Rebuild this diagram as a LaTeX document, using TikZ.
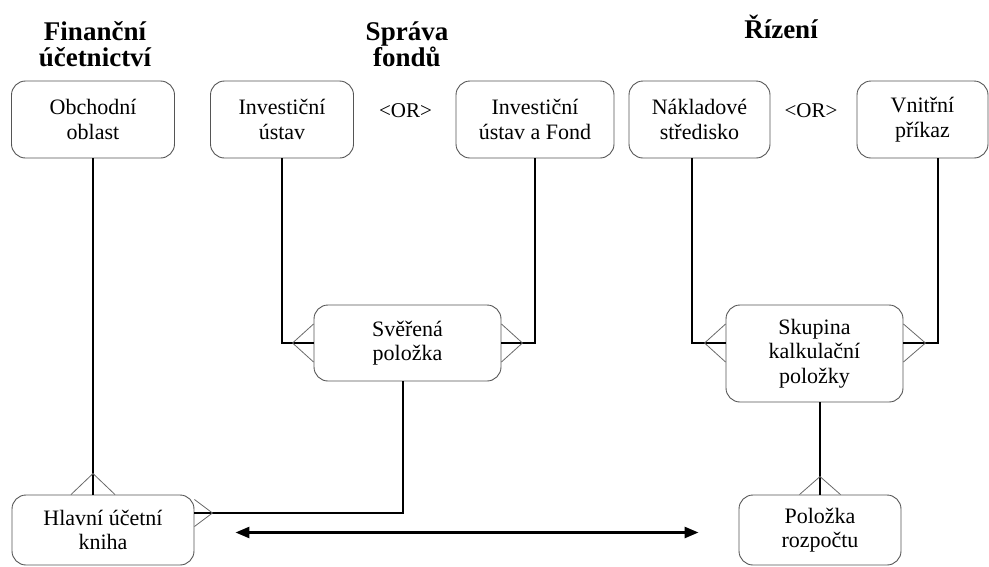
\documentclass[tikz,border=0pt]{standalone}
\usepackage{fontspec}
\setmainfont{Liberation Serif}
\usetikzlibrary{calc,arrows.meta}
\definecolor{boxgray}{RGB}{85,85,85}
\definecolor{crowgray}{RGB}{105,105,105}
\tikzset{
  entity/.style={draw=boxgray, line width=0.9pt, rounded corners=14pt,
    align=center, inner sep=0pt, font=\fontsize{22}{24.5}\selectfont},
  link/.style={draw=black, line width=1.7pt},
  crowfoot/.style={draw=crowgray, line width=0.8pt},
  heading/.style={font=\bfseries\fontsize{27}{26}\selectfont, align=center},
  ortext/.style={font=\fontsize{21}{21}\selectfont},
  bigtip/.tip={Triangle[length=14pt,width=11pt]}
}
\begin{document}
\begin{tikzpicture}[x=1pt,y=-1pt]
\useasboundingbox (0,0) rectangle (989,566);

% section headings
\node[heading] (hfin) at (95,44) {Finanční\\účetnictví};
\node[heading] (hspr) at (407,44) {Správa\\fondů};
\node[heading, anchor=base] (hriz) at (781,38) {Řízení};

% entities, top row
\node[entity, minimum width=163pt, minimum height=77pt] (ob)   at (93,119.5)  {Obchodní\\oblast};
\node[entity, minimum width=143pt, minimum height=77pt] (inv)  at (282,119.5) {Investiční\\ústav};
\node[entity, minimum width=158pt, minimum height=77pt] (invf) at (535,119.5) {Investiční\\ústav a Fond};
\node[entity, minimum width=141pt, minimum height=77pt] (nak)  at (699.5,119.5) {Nákladové\\středisko};
\node[entity, minimum width=131pt, minimum height=77pt] (vni)  at (922.5,119.5) {Vnitřní\\příkaz};

\node[ortext] (or1) at (405.5,111) {<OR>};
\node[ortext] (or2) at (811,111) {<OR>};

% entities, middle row
\node[entity, minimum width=187pt, minimum height=76pt] (sve) at (407.5,343) {Svěřená\\položka};
\node[entity, minimum width=177pt, minimum height=97pt] (sku) at (814.5,353.5) {Skupina\\kalkulační\\položky};

% entities, bottom row
\node[entity, minimum width=182pt, minimum height=70pt] (hla) at (103,530) {Hlavní účetní\\kniha};
\node[entity, minimum width=162pt, minimum height=70pt] (pol) at (820,530) {Položka\\rozpočtu};

% attachment points on the entity borders
\coordinate (c1) at (ob.south |- hla.north);
\coordinate (p1) at ($(sku.west)+(0,-10.5)$);
\coordinate (p2) at ($(sku.east)+(0,-10.5)$);
\coordinate (p3) at ($(hla.east)+(0,-17)$);
\coordinate (c2) at (sku.south -| pol.north);

% relationships
\draw[link] (ob.south) -- (c1);
\draw[link] (inv.south) |- (sve.west);
\draw[link] (invf.south) |- (sve.east);
\draw[link] ($(nak.south)+(-7.5,0)$) |- (p1);
\draw[link] ($(vni.south)+(15.5,0)$) |- (p2);
\draw[link] ($(sve.south)+(-4.5,0)$) |- (p3);
\draw[link] (c2) -- (pol.north);

% crow's feet (many side)
\draw[crowfoot] ($(c1)+(-22,0)$) -- ($(c1)+(0,-21)$) -- ($(c1)+(22,0)$);
\draw[crowfoot] ($(sve.west)+(0,-19)$) -- ($(sve.west)+(-21,0)$) -- ($(sve.west)+(0,19)$);
\draw[crowfoot] ($(sve.east)+(0,-19)$) -- ($(sve.east)+(21,0)$) -- ($(sve.east)+(0,19)$);
\draw[crowfoot] ($(p1)+(0,-19)$) -- ($(p1)+(-21,0)$) -- ($(p1)+(0,19)$);
\draw[crowfoot] ($(p2)+(0,-19)$) -- ($(p2)+(22,0)$) -- ($(p2)+(0,19)$);
\draw[crowfoot] ($(p3)+(0,-13.5)$) -- ($(p3)+(18,0)$) -- ($(p3)+(0,13.5)$);
\draw[crowfoot] ($(pol.north)+(-20.5,0)$) -- ($(pol.north)+(0,-18)$) -- ($(pol.north)+(20.5,0)$);

% two-way arrow between ledger and budget item
\coordinate (aL) at ($(hla.east)+(41,2.5)$);
\coordinate (aR) at ($(pol.west)+(-40,2.5)$);
\draw[draw=black, line width=2.6pt, bigtip-bigtip] (aL) -- (aR);
\end{tikzpicture}
\end{document}
